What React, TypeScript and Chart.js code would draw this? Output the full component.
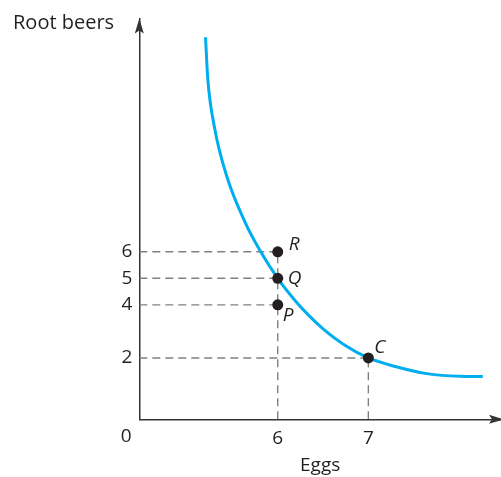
import React, { useEffect, useRef } from 'react';
import { Chart, registerables } from 'chart.js';

Chart.register(...registerables);

// Axis ranges (the eggs axis is broken: its left end is labelled 0)
const X_MIN = 4.472;
const X_MAX = 8.464;
const Y_MIN = -0.31;
const Y_MAX = 14.79;

const xTicks = [6, 7];
const yTicks = [2, 4, 5, 6];

// Indifference curve
const curveEggs = [5.203, 5.227, 5.302, 5.44, 5.645, 5.799, 6, 6.2, 6.35, 6.5, 6.75, 7, 7.276, 7.645, 8.012, 8.263];
const curveRootBeers = [14.081, 12.55, 10.683, 8.816, 7.072, 6.078, 5, 4.129, 3.577, 3.099, 2.46, 2, 1.7, 1.411, 1.31, 1.302];

// Labelled bundles
const pointNames = ['R', 'Q', 'P', 'C'];
const pointEggs = [6, 6, 6, 7];
const pointRootBeers = [6, 5, 4, 2];

const FONT = "'Open Sans', 'DejaVu Sans', sans-serif";
const INK = '#231f20';
const AXIS = '#333333';
const GUIDE = '#808080';
const CURVE = '#00aeef';
const TICK_PAD = 8;

// label placement relative to each bundle's dot: [dx, dy of baseline]
const labelOffsets: Record<string, [number, number]> = {
  R: [11, -2],
  Q: [10, 6],
  P: [5, 16],
  C: [6, -5],
};

const decorations = {
  id: 'decorations',
  afterDatasetsDraw(chart: Chart) {
    const { ctx, chartArea } = chart;
    const { left, top, bottom, right } = chartArea;
    ctx.save();
    ctx.fillStyle = AXIS;

    // arrow on the root-beer axis
    ctx.beginPath();
    ctx.moveTo(left, top);
    ctx.lineTo(left - 4.5, top + 15);
    ctx.lineTo(left, top + 12);
    ctx.lineTo(left + 4.5, top + 15);
    ctx.closePath();
    ctx.fill();

    // arrow on the eggs axis
    const tip = right + 3;
    ctx.beginPath();
    ctx.moveTo(tip, bottom);
    ctx.lineTo(tip - 15, bottom - 4.5);
    ctx.lineTo(tip - 12, bottom);
    ctx.lineTo(tip - 15, bottom + 4.5);
    ctx.closePath();
    ctx.fill();

    // axis name at the top of the vertical axis
    ctx.fillStyle = INK;
    ctx.font = `400 20px ${FONT}`;
    ctx.textAlign = 'left';
    ctx.textBaseline = 'alphabetic';
    ctx.fillText('Root beers', 13, 29);

    // origin label
    ctx.font = `400 19px ${FONT}`;
    ctx.textAlign = 'center';
    ctx.textBaseline = 'top';
    ctx.fillText('0', left - 13, bottom + TICK_PAD);

    // bundle letters
    const meta = chart.getDatasetMeta(0);
    ctx.font = `italic 400 19px ${FONT}`;
    ctx.textAlign = 'left';
    ctx.textBaseline = 'alphabetic';
    meta.data.forEach((el: any, i: number) => {
      const name = pointNames[i];
      const [dx, dy] = labelOffsets[name];
      ctx.fillText(name, el.x + dx, el.y + dy);
    });
    ctx.restore();
  },
};

export default function App() {
  const canvasRef = useRef<HTMLCanvasElement | null>(null);

  useEffect(() => {
    if (!canvasRef.current) return;

    const guides: { x: number; y: number }[][] = [];
    pointEggs.forEach((x, i) => {
      guides.push([
        { x: X_MIN, y: pointRootBeers[i] },
        { x, y: pointRootBeers[i] },
      ]);
    });
    Array.from(new Set(pointEggs)).forEach((x) => {
      const top = Math.max(...pointRootBeers.filter((_, i) => pointEggs[i] === x));
      guides.push([
        { x, y: Y_MIN },
        { x, y: top },
      ]);
    });

    const chart = new Chart(canvasRef.current, {
      type: 'scatter',
      data: {
        datasets: [
          {
            label: 'bundles',
            data: pointEggs.map((x, i) => ({ x, y: pointRootBeers[i] })),
            pointRadius: 5.5,
            pointBackgroundColor: INK,
            pointBorderColor: INK,
            pointBorderWidth: 0,
            showLine: false,
          },
          {
            label: 'indifference curve',
            data: curveEggs.map((x, i) => ({ x, y: curveRootBeers[i] })),
            showLine: true,
            borderColor: CURVE,
            borderWidth: 3,
            pointRadius: 0,
            cubicInterpolationMode: 'monotone',
          },
          ...guides.map((g, i) => ({
            label: `guide ${i}`,
            data: g,
            showLine: true,
            borderColor: GUIDE,
            borderWidth: 1.4,
            borderDash: [8, 5],
            pointRadius: 0,
          })),
        ],
      },
      options: {
        responsive: false,
        animation: false,
        events: [],
        layout: { autoPadding: false, padding: { top: 15, right: 0, bottom: 0, left: 0 } },
        plugins: {
          legend: { display: false },
          tooltip: { enabled: false },
        },
        scales: {
          x: {
            type: 'linear',
            min: X_MIN,
            max: X_MAX,
            grid: { display: false, drawTicks: false },
            border: { display: true, color: AXIS, width: 1.5 },
            afterBuildTicks: (scale: any) => {
              scale.ticks = xTicks.map((value) => ({ value }));
            },
            afterFit: (scale: any) => {
              scale.height = 57.7;
            },
            ticks: {
              color: INK,
              padding: TICK_PAD,
              maxRotation: 0,
              font: { family: FONT, size: 19 },
              callback: (v: any) => String(v),
            },
            title: {
              display: true,
              text: 'Eggs',
              color: INK,
              font: { family: FONT, size: 19 },
              padding: { top: 0, bottom: 0 },
            },
          },
          y: {
            type: 'linear',
            min: Y_MIN,
            max: Y_MAX,
            grid: { display: false, drawTicks: false },
            border: { display: true, color: AXIS, width: 1.5 },
            afterBuildTicks: (scale: any) => {
              scale.ticks = yTicks.map((value) => ({ value }));
            },
            afterFit: (scale: any) => {
              scale.width = 139.3;
            },
            ticks: {
              color: INK,
              padding: 7,
              font: { family: FONT, size: 19 },
              callback: (v: any) => String(v),
            },
          },
        },
      },
      plugins: [decorations],
    });

    return () => chart.destroy();
  }, []);

  return (
    <div style={{ position: 'fixed', left: 0, top: 0, width: 501, height: 477, background: '#fff' }}>
      <canvas ref={canvasRef} width={501} height={477} />
    </div>
  );
}
